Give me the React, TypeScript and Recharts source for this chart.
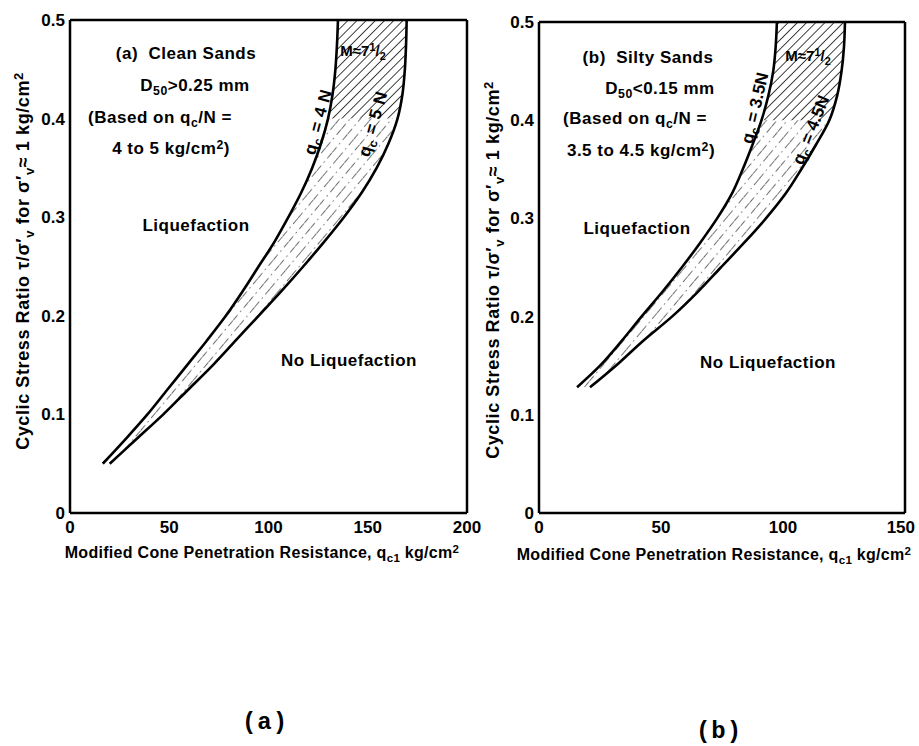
import React from "react";
import { ComposedChart, Area, Line, XAxis, YAxis } from "recharts";

// cyclic stress ratio levels (y) and boundary curves (x = qc1, kg/cm2)
const cleanRatio = [0.05, 0.075, 0.1, 0.125, 0.15, 0.175, 0.2, 0.225, 0.25, 0.275, 0.3, 0.325, 0.35, 0.375, 0.4, 0.425, 0.45, 0.475, 0.5];
const cleanQc4N = [16.5, 28, 39, 49, 59, 69, 78.5, 87, 95, 103, 110, 116.5, 122, 126.5, 130, 132.3, 133.7, 134.5, 135];
const cleanQc5N = [20, 33.5, 47, 59.5, 72, 83.5, 95, 106.5, 117.5, 128, 138, 147, 154.5, 160.5, 165, 167.5, 168.7, 169.3, 169.6];

const siltyRatio = [0.128, 0.15, 0.175, 0.2, 0.225, 0.25, 0.275, 0.3, 0.325, 0.35, 0.375, 0.4, 0.425, 0.45, 0.475, 0.5];
const siltyQc35N = [15.6, 25, 33.8, 42, 50.5, 58.5, 66, 73, 79, 83.5, 87.5, 91.2, 94, 96, 97, 97.5];
const siltyQc45N = [20.9, 31.5, 42.5, 54.5, 65, 74.5, 84, 93, 101, 107.5, 113.5, 119, 122.2, 124, 125, 125.4];

const ratioTicks = [0, 0.1, 0.2, 0.3, 0.4, 0.5];
const innerRatioTicks = [0.1, 0.2, 0.3, 0.4];
const cleanXTicks = [0, 50, 100, 150, 200];
const siltyXTicks = [0, 50, 100, 150];

const FONT = '"Liberation Sans", Arial, sans-serif';
const MONO = '"Liberation Mono", "Courier New", monospace';
const axisLine = { stroke: "#000", strokeWidth: 2.5 };
const tickLine = { stroke: "#000", strokeWidth: 2 };
const tickText = { fill: "#000", fontSize: 17, fontFamily: FONT, fontWeight: 700 };

const Sub = ({ children }: { children: React.ReactNode }) => (
  <span style={{ fontSize: "0.72em", position: "relative", top: "0.35em" }}>{children}</span>
);
const Sup = ({ children }: { children: React.ReactNode }) => (
  <span style={{ fontSize: "0.72em", position: "relative", top: "-0.45em" }}>{children}</span>
);

function Note({ x, y, angle = 0, size = 17, spacing = 0.5, family = FONT, children }: any) {
  return (
    <div
      style={{
        position: "absolute",
        left: x,
        top: y,
        transform: `translate(-50%, -50%) rotate(${angle}deg)`,
        whiteSpace: "nowrap",
        fontFamily: family,
        fontWeight: 700,
        fontSize: size,
        lineHeight: 1,
        letterSpacing: spacing,
        color: "#000",
      }}
    >
      {children}
    </div>
  );
}

// bottom tick label; the last one of the right panel is pulled in so it stays on the page
const makeXTick = (lastValue: number, pullLast: number) => (props: any) => {
  const { x, y, payload } = props;
  const isLast = payload.value === lastValue && pullLast > 0;
  return (
    <text
      x={isLast ? x + 10 : x}
      y={y}
      dy="0.71em"
      textAnchor={isLast ? "end" : "middle"}
      {...tickText}
    >
      {payload.value}
    </text>
  );
};

interface PanelProps {
  id: string;
  left: number;
  width: number;
  margin: { top: number; left: number; right: number; bottom: number };
  ratios: number[];
  lower: number[];
  upper: number[];
  xMax: number;
  xTicks: number[];
  bottomTicks: number[];
  topTicks: number[];
  pullLast?: number;
}

function Panel({ id, left, width, margin, ratios, lower, upper, xMax, xTicks, bottomTicks, topTicks, pullLast = 0 }: PanelProps) {
  const rows = ratios.map((ratio, i) => ({
    ratio,
    lower: lower[i],
    upper: upper[i],
    dense: ratio >= 0.4 ? [lower[i], upper[i]] : null,
    sparse: ratio <= 0.4 ? [lower[i], upper[i]] : null,
  }));

  return (
    <div style={{ position: "absolute", left, top: 0 }}>
      <ComposedChart width={width} height={560} data={rows} layout="vertical" margin={margin}>
        <defs>
          <pattern id={`dense-${id}`} width="6.5" height="6.5" patternUnits="userSpaceOnUse" patternTransform="rotate(45)">
            <line x1="0" y1="0" x2="0" y2="6.5" stroke="#000" strokeWidth="1.5" />
          </pattern>
          <pattern id={`sparse-${id}`} width="8" height="24" patternUnits="userSpaceOnUse" patternTransform="rotate(40)">
            <line x1="0" y1="0" x2="0" y2="24" stroke="#000" strokeWidth="1.1" strokeDasharray="7 4 1.5 4" />
          </pattern>
        </defs>

        <XAxis
          xAxisId="x"
          type="number"
          domain={[0, xMax]}
          ticks={xTicks}
          interval={0}
          allowDataOverflow
          height={1}
          tickLine={false}
          tickSize={6}
          tickMargin={2}
          axisLine={axisLine}
          tick={makeXTick(xMax, pullLast)}
        />
        <XAxis xAxisId="xb" type="number" domain={[0, xMax]} ticks={bottomTicks} interval={0} allowDataOverflow height={1} mirror tick={false} tickSize={9} tickLine={tickLine} axisLine={false} />
        <XAxis xAxisId="xt" orientation="top" type="number" domain={[0, xMax]} ticks={topTicks} interval={0} allowDataOverflow height={1} mirror tick={false} tickSize={8} tickLine={tickLine} axisLine={axisLine} />

        <YAxis
          yAxisId="y"
          type="number"
          dataKey="ratio"
          domain={[0, 0.5]}
          ticks={ratioTicks}
          interval={0}
          allowDataOverflow
          reversed
          width={1}
          tickLine={false}
          tickSize={4}
          tickMargin={1}
          axisLine={axisLine}
          tick={tickText}
        />
        <YAxis yAxisId="yl" type="number" domain={[0, 0.5]} ticks={innerRatioTicks} interval={0} allowDataOverflow reversed width={1} mirror tick={false} tickSize={8} tickLine={tickLine} axisLine={false} />
        <YAxis yAxisId="yr" orientation="right" type="number" domain={[0, 0.5]} ticks={innerRatioTicks} interval={0} allowDataOverflow reversed width={1} mirror tick={false} tickSize={9} tickLine={tickLine} axisLine={axisLine} />

        <Area xAxisId="x" yAxisId="y" dataKey="sparse" type="monotone" fill={`url(#sparse-${id})`} fillOpacity={1} stroke="none" isAnimationActive={false} />
        <Area xAxisId="x" yAxisId="y" dataKey="dense" type="monotone" fill={`url(#dense-${id})`} fillOpacity={1} stroke="none" isAnimationActive={false} />
        <Line xAxisId="x" yAxisId="y" dataKey="lower" type="monotone" stroke="#000" strokeWidth={2.6} dot={false} isAnimationActive={false} />
        <Line xAxisId="x" yAxisId="y" dataKey="upper" type="monotone" stroke="#000" strokeWidth={2.6} dot={false} isAnimationActive={false} />
      </ComposedChart>
    </div>
  );
}

const YTitle = ({ x, y }: { x: number; y: number }) => (
  <Note x={x} y={y} angle={-90} size={18} spacing={0.6}>
    Cyclic Stress Ratio τ/σ′<Sub>v</Sub> for σ′<Sub>v</Sub>≈ 1 kg/cm<Sup>2</Sup>
  </Note>
);

const XTitle = ({ x, y }: { x: number; y: number }) => (
  <Note x={x} y={y} size={16} spacing={0.3}>
    Modified Cone Penetration Resistance, q<Sub>c1</Sub> kg/cm<Sup>2</Sup>
  </Note>
);

const Magnitude = ({ x, y }: { x: number; y: number }) => (
  <Note x={x} y={y} size={15} spacing={0}>
    M≈7<Sup>1</Sup>/<Sub>2</Sub>
  </Note>
);

export default function App() {
  return (
    <div style={{ position: "absolute", left: 0, top: 0, width: 919, height: 746, background: "#fff", overflow: "hidden" }}>
      <Panel
        id="a"
        left={0}
        width={500}
        margin={{ top: 20, left: 69, right: 33, bottom: 46 }}
        ratios={cleanRatio}
        lower={cleanQc4N}
        upper={cleanQc5N}
        xMax={200}
        xTicks={cleanXTicks}
        bottomTicks={[50, 100, 150]}
        topTicks={[50, 100]}
      />
      <Panel
        id="b"
        left={470}
        width={449}
        margin={{ top: 22, left: 68, right: 14, bottom: 46 }}
        ratios={siltyRatio}
        lower={siltyQc35N}
        upper={siltyQc45N}
        xMax={150}
        xTicks={siltyXTicks}
        bottomTicks={[50, 100]}
        topTicks={[50]}
        pullLast={1}
      />

      {/* panel (a) */}
      <YTitle x={23} y={261} />
      <XTitle x={262} y={553} />
      <Note x={186} y={53}>(a)&nbsp; Clean Sands</Note>
      <Note x={195} y={85}>D<Sub>50</Sub>&gt;0.25 mm</Note>
      <Note x={160} y={117}>(Based on q<Sub>c</Sub>/N =</Note>
      <Note x={171} y={148}>4 to 5 kg/cm<Sup>2</Sup>)</Note>
      <Note x={196} y={225}>Liquefaction</Note>
      <Note x={349} y={360}>No Liquefaction</Note>
      <Magnitude x={363} y={50} />
      <Note x={318} y={122} angle={-75} size={17}>q<Sub>c</Sub> = 4 N</Note>
      <Note x={373} y={124} angle={-74} size={17}>q<Sub>c</Sub> = 5 N</Note>

      {/* panel (b) */}
      <YTitle x={493} y={270} />
      <XTitle x={714} y={555} />
      <Note x={648} y={57}>(b)&nbsp; Silty Sands</Note>
      <Note x={660} y={88}>D<Sub>50</Sub>&lt;0.15 mm</Note>
      <Note x={635} y={118}>(Based on q<Sub>c</Sub>/N =</Note>
      <Note x={641} y={150}>3.5 to 4.5 kg/cm<Sup>2</Sup>)</Note>
      <Note x={637} y={228}>Liquefaction</Note>
      <Note x={768} y={362}>No Liquefaction</Note>
      <Magnitude x={808} y={55} />
      <Note x={755} y={108} angle={-77} size={17} spacing={0}>q<Sub>c</Sub> = 3.5N</Note>
      <Note x={811} y={130} angle={-68} size={17} spacing={0}>q<Sub>c</Sub> = 4.5N</Note>

      <Note x={265} y={723} size={24} spacing={1} family={MONO}>(a)</Note>
      <Note x={719} y={732} size={24} spacing={1} family={MONO}>(b)</Note>
    </div>
  );
}
